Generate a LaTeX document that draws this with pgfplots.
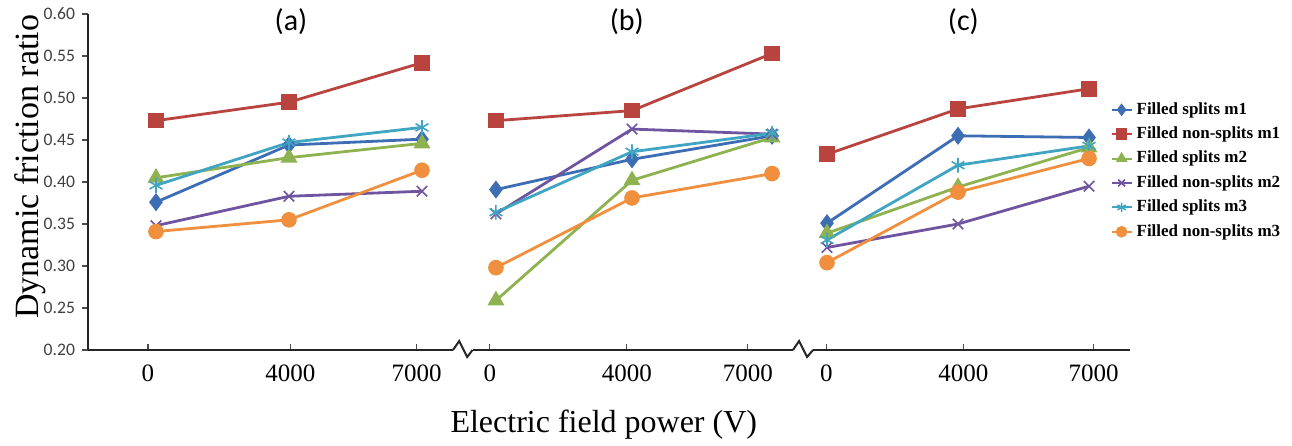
\documentclass[border=0pt]{standalone}
\usepackage{fontspec}
\setmainfont{Liberation Serif}
\newfontfamily\carlito{Carlito}
\usepackage{pgfplots}
\pgfplotsset{compat=1.18}

% Excel-like series colours
\definecolor{cBlue}{HTML}{3D6DB3}
\definecolor{cRed}{HTML}{B8433F}
\definecolor{cGreen}{HTML}{8DB24F}
\definecolor{cPurple}{HTML}{6F55A0}
\definecolor{cCyan}{HTML}{3FA5C2}
\definecolor{cOrange}{HTML}{F0903E}

\pgfplotsset{
  sA/.style={cBlue, line width=1.4pt, mark=diamond*, mark size=3.4pt},
  sB/.style={cRed, line width=1.4pt, mark=square*, mark size=3.2pt},
  sC/.style={cGreen, line width=1.4pt, mark=triangle*, mark size=3.5pt},
  sD/.style={cPurple, line width=1.4pt, mark=x, mark size=3.7pt, mark options={line width=0.8pt}},
  sE/.style={cCyan, line width=1.4pt, mark=asterisk, mark size=3.7pt, mark options={line width=0.8pt}},
  sF/.style={cOrange, line width=1.4pt, mark=*, mark size=3.2pt},
}

\begin{document}
\begin{tikzpicture}
\begin{axis}[
    name=ax,
    scale only axis,
    width=521pt, height=168pt,
    xmin=-0.511, xmax=7.323,
    ymin=0.2, ymax=0.6,
    clip=false,
    axis x line*=bottom,
    axis y line*=left,
    axis line style={line width=1pt, black!85},
    xtick={-0.06,1.01,1.96,2.51,3.54,4.45,5.04,6.07,7.05},
    xticklabels={0,4000,7000,0,4000,7000,0,4000,7000},
    ytick={0.2,0.25,0.3,0.35,0.4,0.45,0.5,0.55,0.6},
    xtick align=inside,
    ytick align=outside,
    major tick length=3pt,
    tick style={black!70, line width=0.6pt},
    xticklabel style={font=\fontsize{12.5}{14}\selectfont, yshift=-4pt},
    yticklabel style={font=\carlito\fontsize{8.8}{10}\selectfont, text=black!75,
        /pgf/number format/fixed, /pgf/number format/fixed zerofill,
        /pgf/number format/precision=2, /pgf/number format/assume math mode=true},
    ylabel={Dynamic friction ratio},
    ylabel style={font=\fontsize{17}{20}\selectfont, at={(axis description cs:0,0.545)}, anchor=center, yshift=29pt},
    xlabel={Electric field power (V)},
    xlabel style={font=\fontsize{16}{19}\selectfont, at={(axis description cs:0.495,0)}, anchor=center, yshift=-37.5pt},
    legend style={at={(axis description cs:0.981,0.75)}, anchor=north west, draw=none, fill=none,
        font=\fontsize{8.5}{10}\selectfont\bfseries, row sep=0.8pt, inner sep=0pt},
    legend cell align={left},
    legend image code/.code={
        \draw[mark repeat=2, mark phase=2, #1, mark size=2.4pt, line width=1pt]
            plot coordinates {(0pt,0pt) (5pt,0pt) (10pt,0pt)};
    },
]

% ---- panel (a) ----
\addplot[sA] coordinates {(0,0.376) (1,0.444) (2,0.451)};
\addlegendentry{Filled splits m1}
\addplot[sB] coordinates {(0,0.473) (1,0.495) (2,0.542)};
\addlegendentry{Filled non-splits m1}
\addplot[sC] coordinates {(0,0.405) (1,0.429) (2,0.446)};
\addlegendentry{Filled splits m2}
\addplot[sD] coordinates {(0,0.348) (1,0.383) (2,0.389)};
\addlegendentry{Filled non-splits m2}
\addplot[sE] coordinates {(0,0.396) (1,0.447) (2,0.465)};
\addlegendentry{Filled splits m3}
\addplot[sF] coordinates {(0,0.341) (1,0.355) (2,0.414)};
\addlegendentry{Filled non-splits m3}

% ---- panel (b) ----
\addplot[sA, forget plot] coordinates {(2.556,0.391) (3.579,0.427) (4.632,0.455)};
\addplot[sB, forget plot] coordinates {(2.556,0.473) (3.579,0.485) (4.632,0.553)};
\addplot[sC, forget plot] coordinates {(2.556,0.259) (3.579,0.402) (4.632,0.453)};
\addplot[sD, forget plot] coordinates {(2.556,0.362) (3.579,0.463) (4.632,0.457)};
\addplot[sE, forget plot] coordinates {(2.556,0.364) (3.579,0.436) (4.632,0.458)};
\addplot[sF, forget plot] coordinates {(2.556,0.298) (3.579,0.381) (4.632,0.410)};

% ---- panel (c) ----
\addplot[sA, forget plot] coordinates {(5.045,0.351) (6.030,0.455) (7.015,0.453)};
\addplot[sB, forget plot] coordinates {(5.045,0.433) (6.030,0.487) (7.015,0.511)};
\addplot[sC, forget plot] coordinates {(5.045,0.339) (6.030,0.394) (7.015,0.441)};
\addplot[sD, forget plot] coordinates {(5.045,0.322) (6.030,0.350) (7.015,0.395)};
\addplot[sE, forget plot] coordinates {(5.045,0.331) (6.030,0.420) (7.015,0.443)};
\addplot[sF, forget plot] coordinates {(5.045,0.304) (6.030,0.388) (7.015,0.428)};

% panel titles
\node[font=\carlito\fontsize{15}{18}\selectfont] at (axis cs:1.015,0.591) {(a)};
\node[font=\carlito\fontsize{15}{18}\selectfont] at (axis cs:3.54,0.591) {(b)};
\node[font=\carlito\fontsize{15}{18}\selectfont] at (axis cs:6.07,0.591) {(c)};

% axis break marks
\draw[white, line width=2pt] (axis cs:2.233,0.2) -- (axis cs:2.38,0.2);
\draw[black!85, line width=1pt] (axis cs:2.233,0.2) -- (axis cs:2.28,0.2107)
    -- (axis cs:2.34,0.1917) -- (axis cs:2.38,0.2);
\draw[white, line width=2pt] (axis cs:4.789,0.2) -- (axis cs:4.94,0.2);
\draw[black!85, line width=1pt] (axis cs:4.789,0.2) -- (axis cs:4.835,0.2107)
    -- (axis cs:4.895,0.1917) -- (axis cs:4.94,0.2);
\end{axis}
\pgfresetboundingbox
\path[use as bounding box] ([shift={(-44pt,-47.5pt)}]ax.south west)
    rectangle ([shift={(602pt,175pt)}]ax.south west);
\end{tikzpicture}
\end{document}
